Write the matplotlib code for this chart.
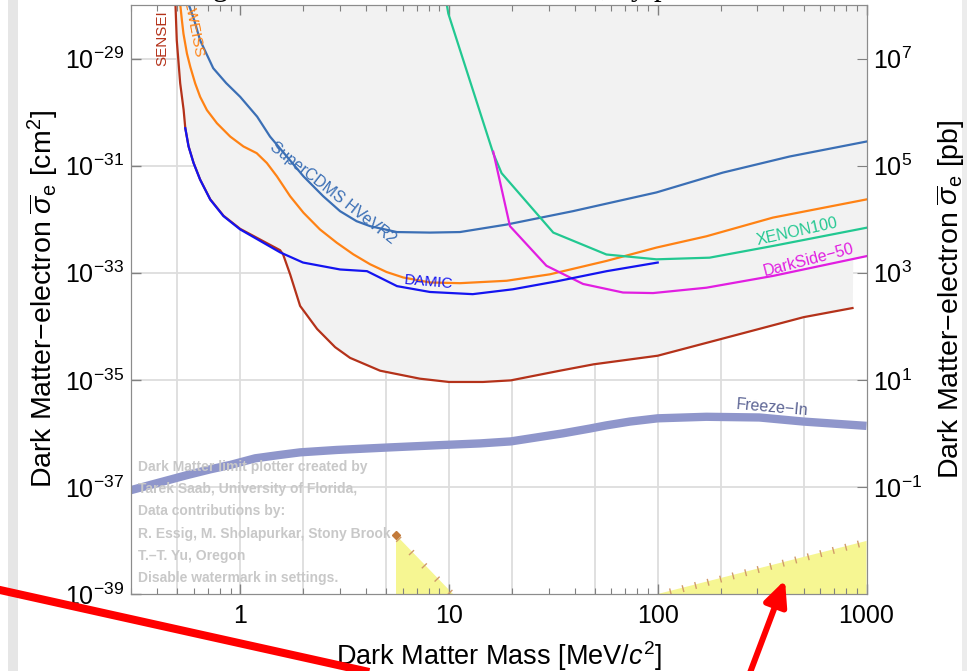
import numpy as np
import matplotlib
matplotlib.use("Agg")
import matplotlib.pyplot as plt
from matplotlib.ticker import LogFormatterMathtext, NullLocator, LogLocator, NullFormatter
from matplotlib.patches import FancyArrowPatch, Rectangle
from matplotlib.lines import Line2D
from matplotlib.collections import LineCollection
from matplotlib.transforms import IdentityTransform

plt.rcParams['font.family'] = ['Liberation Sans', 'DejaVu Sans']
plt.rcParams['mathtext.fontset'] = 'custom'
plt.rcParams['mathtext.rm'] = 'Liberation Sans'
plt.rcParams['mathtext.it'] = 'Liberation Sans:italic'
plt.rcParams['mathtext.bf'] = 'Liberation Sans:bold'

# --- data: DM mass [MeV], cross section [cm^2] ---
sensei_m = [0.49, 0.497, 0.516, 0.536, 0.546, 0.566, 0.598, 0.643, 0.719, 0.832, 1.0, 1.246,
            1.554, 1.606, 1.735, 1.937, 2.336, 2.85, 3.36, 4.68, 7.26, 10, 14.55, 19.8, 34.0,
            49.4, 100, 200, 500, 857]
sensei_s = [1.0e-28, 2.19e-29, 3.47e-30, 1.10e-30, 5.0e-31, 2.3e-31, 1.13e-31, 5.5e-32,
            2.35e-32, 1.16e-32, 6.6e-33, 4.17e-33, 2.63e-33, 2.19e-33, 9.33e-34, 2.40e-34,
            8.91e-35, 4.07e-35, 2.57e-35, 1.48e-35, 1.05e-35, 9.12e-36, 9.12e-36, 9.77e-36,
            1.48e-35, 1.95e-35, 2.82e-35, 5.75e-35, 1.48e-34, 2.19e-34]

damic_m = [0.546, 0.566, 0.598, 0.643, 0.719, 0.832, 1.0, 1.554, 2.0, 3.01, 4.05, 5.64, 8.11,
           13.0, 20.2, 32.9, 57.0, 100]
damic_s = [5.0e-31, 2.28e-31, 1.12e-31, 5.47e-32, 2.32e-32, 1.14e-32, 6.44e-33, 2.40e-33,
           1.55e-33, 1.15e-33, 1.07e-33, 5.62e-34, 4.37e-34, 3.98e-34, 4.90e-34, 6.92e-34,
           1.07e-33, 1.55e-33]

cdms_m = [0.566, 0.603, 0.643, 0.743, 0.857, 1.0, 1.206, 1.39, 1.673, 2.01, 2.50, 3.01,
          3.61, 4.19, 5.63, 8.11, 11.29, 18.9, 39.2, 98.6, 205, 428, 1000]
cdms_s = [1.05e-28, 5.15e-29, 2.19e-29, 6.6e-30, 3.48e-30, 1.93e-30, 8.22e-31,
          3.49e-31, 1.48e-31, 6.31e-32, 2.68e-32, 1.41e-32, 9.18e-33, 7.41e-33, 5.75e-33,
          5.62e-33, 5.75e-33, 7.94e-33, 1.41e-32, 3.16e-32, 7.41e-32, 1.48e-31, 2.82e-31]

edel_m = [0.516, 0.526, 0.535, 0.556, 0.577, 0.609, 0.643, 0.693, 0.774, 0.896, 1.037, 1.20,
          1.342, 1.50, 1.735, 2.01, 2.41, 2.90, 3.48, 4.19, 5.03, 6.04, 8.11, 11.29, 18.9,
          30.4, 56.8, 98.6, 171, 356, 1000]
edel_s = [1.05e-28, 5.15e-29, 2.92e-29, 1.24e-29, 6.98e-30, 3.43e-30, 1.93e-30, 1.09e-30,
          6.19e-31, 3.49e-31, 2.28e-31, 1.71e-31, 1.12e-31, 6.30e-32, 2.68e-32, 1.32e-32,
          6.44e-33, 3.64e-33, 2.21e-33, 1.44e-33, 1.03e-33, 8.15e-34, 6.58e-34, 6.38e-34,
          7.08e-34, 9.33e-34, 1.66e-33, 2.95e-33, 4.79e-33, 1.07e-32, 2.34e-32]

xenon_m = [9.75, 9.93, 16.3, 17.87, 31.6, 56.8, 98.6, 177, 356, 1000]
xenon_s = [1.05e-28, 6.92e-29, 1.70e-31, 7.24e-32, 5.62e-33, 2.19e-33, 1.78e-33, 1.91e-33,
           3.16e-33, 6.92e-33]

ds_m = [16.3, 19.6, 29.3, 43.9, 68.2, 95.0, 171, 356, 1000]
ds_s = [1.82e-31, 7.41e-33, 1.35e-33, 6.17e-34, 4.27e-34, 4.17e-34, 5.25e-34, 8.71e-34, 2.04e-33]

freeze_m = [0.3, 0.414, 0.556, 0.719, 0.896, 1.18, 1.50, 1.937, 2.90, 5.22, 9.06, 14.1, 19.8,
            35.1, 47.3, 56.8, 73.5, 100, 171, 307, 500, 1000]
freeze_s = [8.71e-38, 1.22e-37, 1.66e-37, 2.13e-37, 2.57e-37, 3.42e-37, 3.89e-37, 4.42e-37,
            4.90e-37, 5.47e-37, 6.03e-37, 6.49e-37, 7.08e-37, 1.0e-36, 1.23e-36, 1.41e-36,
            1.66e-36, 1.91e-36, 2.04e-36, 1.98e-36, 1.66e-36, 1.38e-36]

tri1_m = [5.58, 5.58, 10.45]
tri1_s = [1.26e-38, 1e-39, 1e-39]
tri2_m = [100, 1000, 1000]
tri2_s = [1e-39, 9.8e-39, 1e-39]

xticks = [1, 10, 100, 1000]
xtick_labels = ['1', '10', '100', '1000']
yticks = [1e-39, 1e-37, 1e-35, 1e-33, 1e-31, 1e-29]
pb_ticks = [1e-1, 1e1, 1e3, 1e5, 1e7]
xgrid = [0.5, 1, 2, 5, 10, 20, 50, 100, 200, 500]
ygrid = [1e-37, 1e-35, 1e-33, 1e-31, 1e-29]

watermark = ["Dark Matter limit plotter created by",
             "Tarek Saab, University of Florida,",
             "Data contributions by:",
             "R. Essig, M. Sholapurkar, Stony Brook",
             "T.\u2013T. Yu, Oregon",
             "Disable watermark in settings."]

c_sensei = '#b4321a'
c_damic = '#1414f0'
c_cdms = '#3b6fb5'
c_edel = '#ff8214'
c_xenon = '#22c891'
c_ds = '#e11ee1'
c_freeze = '#8f96cb'

W, H = 971, 671
fig = plt.figure(figsize=(W / 100, H / 100), dpi=100)
ax = fig.add_axes([131 / W, 1 - 594 / H, (866.5 - 131) / W, (594 - 5) / H])
ax.set_xscale('log')
ax.set_yscale('log')
ax.set_xlim(0.3, 1000)
ax.set_ylim(1e-39, 1e-28)

for g in xgrid:
    ax.axvline(g, color='#dddddd', lw=1.3, zorder=0.5)
for g in ygrid:
    ax.axhline(g, color='#dddddd', lw=1.3, zorder=0.5)

# excluded region = area above the lowest limit
curves = [(sensei_m, sensei_s), (damic_m, damic_s), (cdms_m, cdms_s),
          (edel_m, edel_s), (xenon_m, xenon_s), (ds_m, ds_s)]
grid = np.logspace(np.log10(0.3), 3, 1500)
env = np.full(grid.shape, np.inf)
for m, s in curves:
    m = np.asarray(m)
    inside = (grid >= m[0]) & (grid <= m[-1])
    vals = 10 ** np.interp(np.log10(grid), np.log10(m), np.log10(s))
    env = np.where(inside, np.minimum(env, vals), env)
ok = np.isfinite(env)
ax.fill_between(grid[ok], env[ok], 1e-28, color='#f2f2f2', lw=0, zorder=1)

# yellow regions
ax.fill(tri1_m, tri1_s, color='#f6f692', lw=0, zorder=1.2)
ax.fill(tri2_m, tri2_s, color='#f6f692', lw=0, zorder=1.2)
ax.plot(tri1_m[0], tri1_s[0], 'D', ms=4, color='#c27a3a', zorder=4)


def hatch_edge(m0, s0, m1, s1, n, length=7):
    p0 = ax.transData.transform((m0, s0))
    p1 = ax.transData.transform((m1, s1))
    d = (p1 - p0) / np.linalg.norm(p1 - p0)
    nrm = np.array([d[1], -d[0]])
    segs = []
    for t in np.linspace(0.06, 0.96, n):
        p = p0 + t * (p1 - p0)
        segs.append([p - nrm * length * 0.35, p + nrm * length * 0.65])
    lc = LineCollection(segs, colors='#d09a6a', linewidths=1.0, transform=IdentityTransform(), zorder=4)
    ax.add_collection(lc)


hatch_edge(tri1_m[0], tri1_s[0], tri1_m[2], tri1_s[2], 5)
hatch_edge(tri2_m[0], tri2_s[0], tri2_m[1], tri2_s[1], 16)

ax.plot(freeze_m, freeze_s, color=c_freeze, lw=6, solid_capstyle='butt', solid_joinstyle='round', zorder=2)
ax.plot(edel_m, edel_s, color=c_edel, lw=1.6, zorder=3)
ax.plot(cdms_m, cdms_s, color=c_cdms, lw=1.6, zorder=3)
ax.plot(xenon_m, xenon_s, color=c_xenon, lw=1.6, zorder=3)
ax.plot(ds_m, ds_s, color=c_ds, lw=1.6, zorder=3)
ax.plot(sensei_m, sensei_s, color=c_sensei, lw=1.6, zorder=3.1)
ax.plot(damic_m, damic_s, color=c_damic, lw=1.6, zorder=3.2)

lab = dict(ha='center', va='center', zorder=5, clip_on=True)
ax.text(0.423, 2.38e-29, 'SENSEI', color=c_sensei, rotation=90, fontsize=11, **lab)
ax.text(0.574, 6.38e-29, 'EDELWEISS', color=c_edel, rotation=-79, fontsize=11, **lab)
ax.text(2.79, 3.13e-32, 'SuperCDMS HVeVR2', color=c_cdms, rotation=-38, fontsize=11.5, **lab)
ax.text(8.02, 6.65e-34, 'DAMIC', color=c_damic, rotation=-5, fontsize=11, **lab)
ax.text(465, 5.9e-33, 'XENON100', color=c_xenon, rotation=12.5, fontsize=11.5, **lab)
ax.text(528, 1.75e-33, 'DarkSide\u221250', color=c_ds, rotation=14.5, fontsize=11.5, **lab)
ax.text(355, 3.03e-36, 'Freeze\u2212In', color='#5c6494', rotation=-5, fontsize=11.5, **lab)

for i, line in enumerate(watermark):
    ax.text(0.0095, 0.2161 - i * 0.0379, line, transform=ax.transAxes, fontsize=10,
            fontweight='bold', color='#c8c8c8', ha='left', va='center', zorder=6)

# axes, ticks
ax.set_xticks(xticks, labels=xtick_labels)
ax.xaxis.set_minor_locator(LogLocator(base=10, subs=np.arange(2, 10)))
ax.xaxis.set_minor_formatter(NullFormatter())
ax.set_yticks(yticks)
ax.yaxis.set_major_formatter(LogFormatterMathtext())
ax.yaxis.set_minor_locator(NullLocator())
ax.tick_params(which='both', direction='in', top=True, right=False, color='#808080', labelsize=18)
ax.tick_params(which='major', length=7, width=1)
ax.tick_params(which='minor', length=4, width=0.8)
ax.tick_params(axis='x', pad=7)
ax.tick_params(axis='y', pad=5)
ax.set_xlim(0.3, 1000)
for sp in ax.spines.values():
    sp.set_color('#8c8c8c')

ax.set_xlabel('Dark Matter Mass [MeV/$c^2$]', fontsize=19.5, labelpad=8)
ax.set_ylabel('Dark Matter\u2212electron $\\overline{\\sigma}_{\\mathrm{e}}$ [cm$^2$]', fontsize=20.5, labelpad=3)

ax2 = ax.twinx()
ax2.set_yscale('log')
ax2.set_ylim(1e-3, 1e8)
ax2.set_yticks(pb_ticks)
ax2.yaxis.set_major_formatter(LogFormatterMathtext())
ax2.yaxis.set_minor_locator(NullLocator())
ax2.tick_params(direction='in', length=7, color='#808080', labelsize=18, pad=5)
for sp in ax2.spines.values():
    sp.set_color('#8c8c8c')
ax2.set_ylabel('Dark Matter\u2212electron $\\overline{\\sigma}_{\\mathrm{e}}$ [pb]', fontsize=20.5, labelpad=9)

# screenshot frame and cut-off title
fig.add_artist(Rectangle((8 / W, 0), 10 / W, 1, transform=fig.transFigure, color='#e6e6e6', lw=0, zorder=0))
fig.add_artist(Rectangle((962 / W, 0), 5 / W, 1, transform=fig.transFigure, color='#ececec', lw=0, zorder=0))
fig.text(104 / W, 1 + 5 / H, 'Scattering limits for model with F$_{\\rm DM}$ = 1, by publication',
         fontsize=22, family='Liberation Serif', ha='left', va='baseline')

# red annotation arrows
fig.add_artist(Line2D([-5 / W, 385 / W], [1 - 588.9 / H, 1 - 675.5 / H], transform=fig.transFigure,
                      color='#ff0000', lw=5.8, solid_capstyle='butt', zorder=10))
fig.add_artist(FancyArrowPatch((748 / W, 1 - 678 / H), (785 / W, 1 - 580 / H), transform=fig.transFigure,
                               arrowstyle='-|>,head_length=1.5,head_width=0.7', mutation_scale=10,
                               color='#ff0000', lw=4.3, shrinkA=0, shrinkB=0, zorder=10))

fig.savefig('out.png', dpi=100)
